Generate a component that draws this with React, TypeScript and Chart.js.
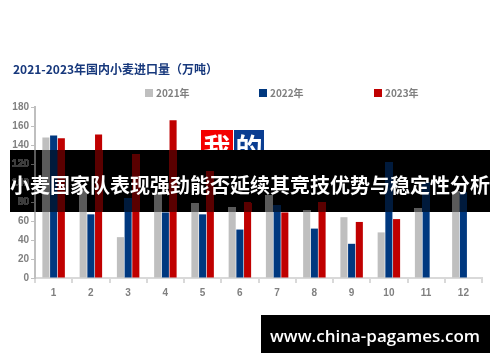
import React, { useEffect, useRef } from "react";
import { Chart, registerables } from "chart.js";

Chart.register(...registerables);

const months = ["1", "2", "3", "4", "5", "6", "7", "8", "9", "10", "11", "12"];
const imports2021 = [148, 92, 43, 89, 78, 74, 87, 71, 64, 48, 73, 91];
const imports2022 = [150, 67, 84, 69, 67, 51, 76, 52, 36, 122, 101, 90];
const imports2023 = [147, 151, 130, 166, 112, 79, 69, 80, 59, 62, null, null];
const seriesNames = ["2021年", "2022年", "2023年"];
const seriesColors = ["#bfbfbf", "#00387f", "#c00000"];
const yMin = 0;
const yMax = 180;
const yStep = 20;
const chartTitle = "2021-2023年国内小麦进口量（万吨）";
const bannerText = "小麦国家队表现强劲能否延续其竞技优势与稳定性分析";
const badgeChars = ["我", "的"];
const watermarkText = "www.china-pagames.com";

const overlayPlugin = {
  id: "overlayDecor",
  afterDraw(chart: any) {
    const ctx: CanvasRenderingContext2D = chart.ctx;
    const dpr = chart.currentDevicePixelRatio || 1;
    ctx.save();

    // title
    ctx.font = "bold 12px 'Noto Sans CJK SC', sans-serif";
    ctx.fillStyle = "#17387c";
    ctx.textBaseline = "middle";
    ctx.textAlign = "left";
    ctx.fillText(chartTitle, 13, 69);

    // legend
    const legendX = [145, 259, 374];
    ctx.font = "bold 10px 'Noto Sans CJK SC', sans-serif";
    seriesNames.forEach((name, i) => {
      ctx.fillStyle = seriesColors[i];
      ctx.fillRect(legendX[i], 89, 8, 8);
      ctx.fillStyle = "#808080";
      ctx.fillText(name, legendX[i] + 11, 93);
    });

    // banner: dim what lies beneath onto black
    const bx = 10, by = 150, bw = 480, bh = 62;
    const img = ctx.getImageData(bx * dpr, by * dpr, bw * dpr, bh * dpr);
    const d = img.data;
    for (let i = 0; i < d.length; i += 4) {
      const r = d[i], g = d[i + 1], b = d[i + 2];
      if (r > 240 && g > 240 && b > 240) {
        d[i] = 0; d[i + 1] = 0; d[i + 2] = 0;
      } else {
        d[i] = r * 0.47; d[i + 1] = g * 0.47; d[i + 2] = b * 0.47;
      }
      d[i + 3] = 255;
    }
    ctx.putImageData(img, bx * dpr, by * dpr);

    ctx.font = "bold 20px 'Noto Sans CJK SC', sans-serif";
    ctx.fillStyle = "#ffffff";
    ctx.textAlign = "center";
    ctx.textBaseline = "middle";
    ctx.fillText(bannerText, 250, 185);

    // badge above banner
    ctx.save();
    ctx.beginPath();
    ctx.rect(0, 0, 500, 150);
    ctx.clip();
    ctx.fillStyle = "#f40000";
    ctx.fillRect(201, 130, 32, 20);
    ctx.fillStyle = "#0a3d91";
    ctx.fillRect(234, 130, 30, 20);
    ctx.fillStyle = "#ffffff";
    ctx.font = "bold 27px 'Noto Sans CJK SC', serif";
    ctx.fillText(badgeChars[0], 217, 148);
    ctx.fillText(badgeChars[1], 249, 148);
    ctx.restore();

    // watermark
    ctx.fillStyle = "#000000";
    ctx.fillRect(261, 315, 229, 38);
    ctx.fillStyle = "#ffffff";
    ctx.font = "600 17px 'Open Sans', sans-serif";
    ctx.textAlign = "center";
    ctx.textBaseline = "middle";
    ctx.fillText(watermarkText, 375, 337);

    ctx.restore();
  },
};

export default function App() {
  const ref = useRef<HTMLCanvasElement | null>(null);

  useEffect(() => {
    if (!ref.current) return;
    const tickFont = { family: "'Liberation Sans', sans-serif", size: 10, weight: "bold" as const };
    const chart = new Chart(ref.current, {
      type: "bar",
      data: {
        labels: months,
        datasets: [imports2021, imports2022, imports2023].map((vals, i) => ({
          label: seriesNames[i],
          data: vals,
          backgroundColor: seriesColors[i],
          borderWidth: 0,
          categoryPercentage: 0.62,
          barPercentage: 0.92,
        })),
      },
      options: {
        responsive: false,
        animation: false,
        layout: { padding: { top: 107, right: 18, left: 0, bottom: 0 } },
        plugins: {
          legend: { display: false },
          title: { display: false },
          tooltip: { enabled: false },
        },
        scales: {
          x: {
            afterFit: (s: any) => { s.height = 84; },
            grid: { display: true, drawOnChartArea: false, drawTicks: true, tickLength: 5, color: "#d9d9d9", lineWidth: 2, offset: true },
            border: { display: true, color: "#d9d9d9", width: 2 },
            ticks: { color: "#808080", font: tickFont, padding: 4 },
          },
          y: {
            min: yMin,
            max: yMax,
            afterFit: (s: any) => { s.width = 35; },
            grid: { display: true, drawOnChartArea: false, drawTicks: true, tickLength: 4, color: "#bfbfbf", lineWidth: 1 },
            border: { display: true, color: "#bfbfbf", width: 2 },
            ticks: { stepSize: yStep, color: "#808080", font: tickFont, padding: 2 },
          },
        },
      },
      plugins: [overlayPlugin],
    });
    return () => chart.destroy();
  }, []);

  return (
    <div style={{ position: "fixed", left: 0, top: 0, width: 500, height: 362, background: "#ffffff" }}>
      <canvas ref={ref} width={500} height={362} style={{ display: "block" }} />
    </div>
  );
}
